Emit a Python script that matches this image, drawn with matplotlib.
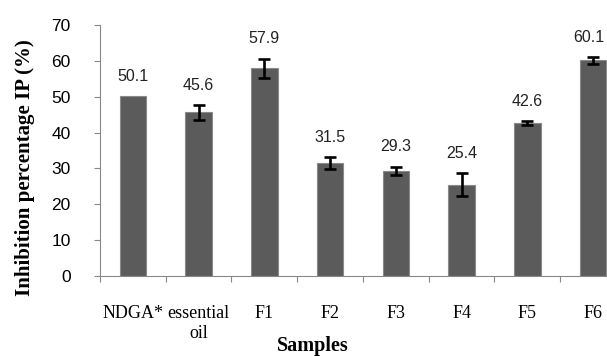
import matplotlib
matplotlib.use("Agg")
import matplotlib.pyplot as plt
import numpy as np

samples = ["NDGA*", "essential\noil", "F1", "F2", "F3", "F4", "F5", "F6"]
inhibition = [50.1, 45.6, 57.9, 31.5, 29.3, 25.4, 42.6, 60.1]
errors = [0.0, 2.0, 2.7, 1.6, 1.1, 3.2, 0.6, 0.9]

serif = "Liberation Serif"
sans = "Liberation Sans"

fig = plt.figure(figsize=(6.07, 3.56), dpi=100)
ax = fig.add_axes([0.1647, 0.2247, 0.8666, 0.7051])
x = np.arange(len(samples))
ax.bar(x, inhibition, width=0.4, color="#5b5b5b", edgecolor="#8a8a8a", linewidth=0.8, zorder=2)
ax.errorbar(x[1:], inhibition[1:], yerr=errors[1:], fmt="none", ecolor="black",
            elinewidth=1.9, capsize=4.3, capthick=1.9, zorder=3)
for xi, v, e in zip(x, inhibition, errors):
    # last label sits against the right edge; nudge it in so it isn't clipped
    dx = -3 if xi == x[-1] else 0
    ax.annotate(f"{v:.1f}", (xi, v + e), textcoords="offset points", xytext=(dx, 9),
                ha="center", va="bottom", fontsize=11.5, family=sans, color="#222222")

ax.set_xlim(-0.5, len(samples) - 0.5)
ax.set_ylim(0, 70)
ax.set_yticks(range(0, 71, 10))
ax.set_xticks(np.arange(-0.5, len(samples), 1.0))
ax.set_xticklabels([])
ax.set_xticks(x, minor=True)
ax.set_xticklabels(samples, minor=True, family=serif, fontsize=13)
ax.tick_params(axis="x", which="minor", length=0, pad=21)
ax.tick_params(axis="x", which="major", length=4, color="#888888", direction="out")
ax.tick_params(axis="y", length=4, color="#888888", direction="out", labelsize=12.5, pad=17)
for lab in ax.get_yticklabels():
    lab.set_family(sans)
for s in ("top", "right"):
    ax.spines[s].set_visible(False)
ax.spines["left"].set_color("#888888")
ax.spines["bottom"].set_color("#888888")

fig.text(0.041, 0.53, "Inhibition percentage IP (%)", rotation=90, ha="center", va="center",
         family=serif, fontweight="bold", fontsize=15)
fig.text(0.516, 0.0, "Samples", ha="center", va="bottom", family=serif, fontweight="bold", fontsize=14.5)

fig.savefig("out.png", dpi=100)
